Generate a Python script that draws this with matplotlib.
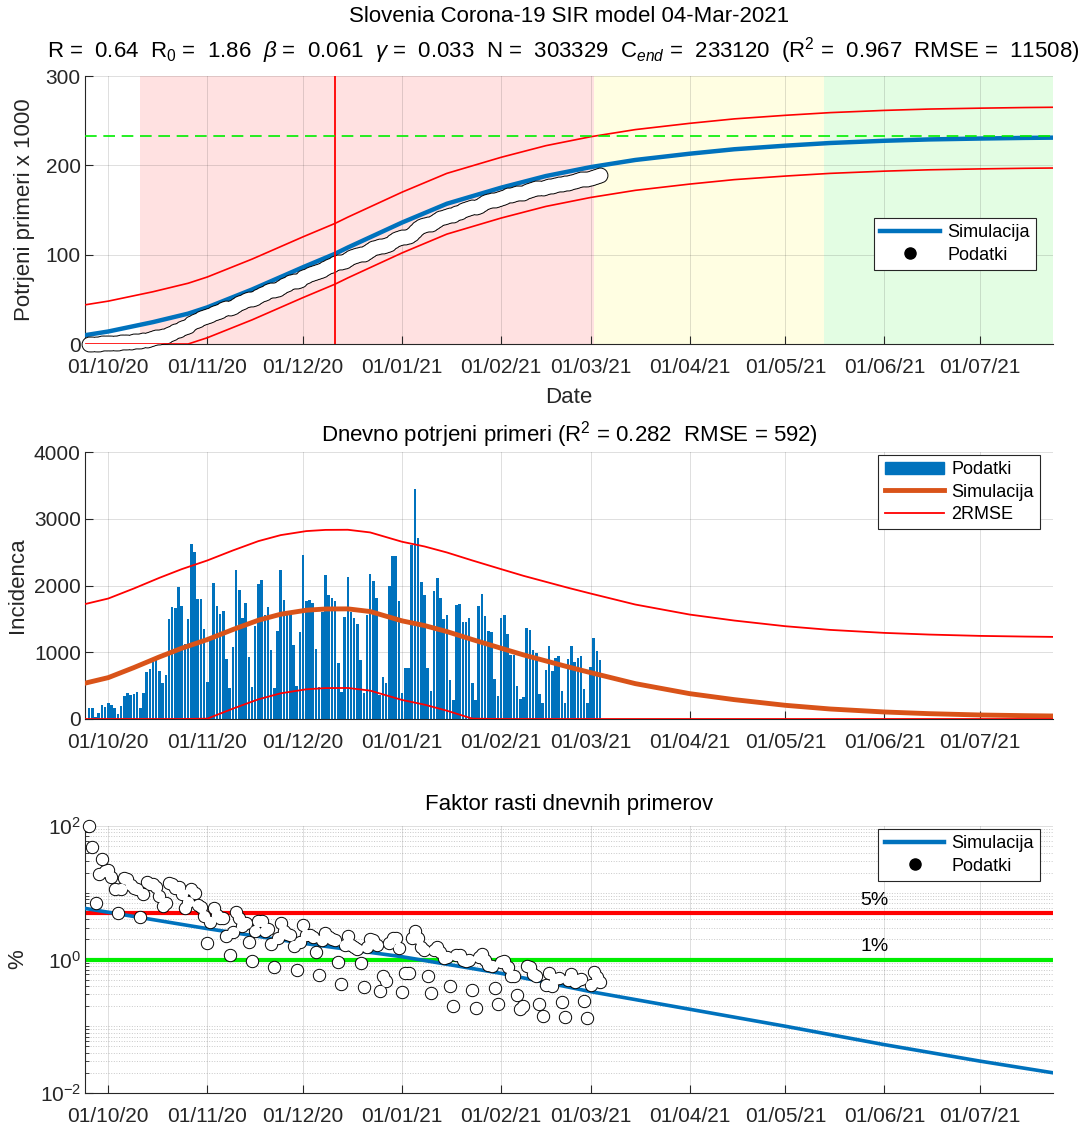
import numpy as np
import pandas as pd
import matplotlib
matplotlib.use('Agg')
import matplotlib.pyplot as plt
import matplotlib.dates as mdates
from matplotlib.lines import Line2D
from matplotlib.patches import Patch

plt.rcParams['font.family'] = ['Liberation Sans', 'DejaVu Sans']
plt.rcParams['mathtext.fontset'] = 'custom'
plt.rcParams['mathtext.rm'] = 'Liberation Sans'
plt.rcParams['mathtext.it'] = 'Liberation Sans:italic'

# ---- data ----
day0 = '2020-09-25'
daily_cases = [
    170, 160, 25, 85, 205, 175, 235, 215, 160, 75, 190, 345, 390, 360, 375, 405, 160, 390,
    705, 750, 860, 895, 720, 535, 655, 1500, 1675, 1660, 1975, 1700, 1125, 1500, 2625, 2500,
    1805, 1805, 1345, 550, 1185, 2035, 1690, 1575, 1615, 900, 465, 1080, 2235, 1935, 1515,
    1745, 925, 485, 1400, 2020, 2080, 1560, 1685, 1035, 465, 1320, 2235, 1790, 1615, 1590,
    1110, 500, 1300, 2450, 1775, 1790, 1745, 1045, 475, 1600, 2150, 1860, 1810, 1765, 845,
    400, 1535, 2120, 1610, 1520, 1425, 885, 395, 1560, 2165, 2065, 1820, 365, 625, 535, 1995,
    2435, 2435, 1775, 395, 765, 765, 2610, 3445, 2710, 2050, 1865, 760, 425, 1920, 2105, 1815,
    1500, 1560, 580, 290, 1705, 1720, 1455, 1455, 1515, 535, 290, 1690, 1875, 1545, 1315,
    1300, 595, 345, 1520, 1555, 1270, 960, 960, 495, 305, 335, 1370, 1340, 1035, 985, 375,
    245, 735, 1100, 720, 910, 950, 420, 245, 895, 1100, 850, 910, 950, 445, 245, 780, 1210,
    1025, 885,
]

# cumulative model (x 1000)
cum_dates = ['2020-09-24', '2020-10-01', '2020-10-15', '2020-10-26', '2020-11-01', '2020-11-15',
             '2020-12-01', '2020-12-11', '2020-12-15', '2021-01-01', '2021-01-15', '2021-02-01',
             '2021-02-15', '2021-03-01', '2021-03-15', '2021-04-01', '2021-04-15', '2021-05-01',
             '2021-05-15', '2021-06-01', '2021-06-15', '2021-07-01', '2021-07-15', '2021-07-24']
cum_sim = [10, 14, 24.5, 34, 41, 61, 86, 101, 108, 136, 157, 175, 188, 198, 206, 213, 218, 222,
           225, 227.5, 229, 230, 230.7, 231]
cum_upper = [44, 48, 58.5, 68, 75, 95, 120, 135, 142, 170, 191, 209, 222, 232, 240, 247, 252, 256,
             259, 261.5, 263, 264, 264.7, 265]
cum_lower = [0, 0, 0, 0, 7, 27, 52, 67, 74, 102, 123, 141, 154, 164, 172, 179, 184, 188,
             191, 193.5, 195, 196, 196.7, 197]
c_end = 233.12
peak_date = '2020-12-11'
phase_edges = ['2020-10-11', '2021-03-02', '2021-05-13', '2021-07-24']
phase_colors = ['#ffe1e1', '#fffee2', '#e3fde3']

# daily model
inc_dates = ['2020-09-24', '2020-10-01', '2020-10-09', '2020-10-17', '2020-10-24', '2020-11-01',
             '2020-11-09', '2020-11-17', '2020-11-24', '2020-12-02', '2020-12-08', '2020-12-15',
             '2020-12-22', '2021-01-01', '2021-01-08', '2021-01-15', '2021-01-23', '2021-02-01',
             '2021-02-08', '2021-02-15', '2021-02-22', '2021-03-01', '2021-03-15', '2021-04-01',
             '2021-04-15', '2021-05-01', '2021-05-15', '2021-06-01', '2021-06-15', '2021-07-01',
             '2021-07-15', '2021-07-24']
inc_sim = [540, 620, 770, 930, 1060, 1190, 1340, 1480, 1570, 1630, 1648, 1650, 1610, 1470,
           1400, 1310, 1190, 1060, 960, 870, 780, 695, 530, 380, 290, 205, 150, 105, 80, 60,
           50, 45]
inc_upper = [1725, 1805, 1955, 2115, 2245, 2375, 2525, 2665, 2755, 2815, 2833, 2835, 2795, 2655,
             2585, 2495, 2375, 2245, 2145, 2055, 1965, 1880, 1715, 1565, 1475, 1390, 1335, 1290,
             1265, 1245, 1235, 1230]
inc_lower = [0, 0, 0, 0, 0, 5, 155, 295, 385, 445, 463, 465, 425, 285, 215, 125, 5, 0, 0, 0,
             0, 0, 0, 0, 0, 0, 0, 0, 0, 0, 0, 0]

# growth factor model (%)
gr_dates = ['2020-09-24', '2020-11-01', '2020-12-01', '2021-01-01', '2021-02-01', '2021-03-01',
            '2021-04-01', '2021-05-01', '2021-06-01', '2021-07-01', '2021-07-24']
gr_sim = [5.8, 2.9, 1.75, 1.1, 0.62, 0.33, 0.18, 0.10, 0.053, 0.03, 0.02]

# ---- derived ----
days = pd.date_range(day0, periods=len(daily_cases), freq='D')
daily = np.array(daily_cases, dtype=float)
cum = np.cumsum(daily)
growth = daily / cum * 100

BLUE = '#0072bd'
ORANGE = '#d95319'
TXT = '#262626'
xmin = pd.Timestamp('2020-09-23 17:00')
xmax = pd.Timestamp('2021-07-23 19:00')
month_ticks = pd.date_range('2020-10-01', '2021-07-01', freq='MS')

fig = plt.figure(figsize=(10.88, 11.26), dpi=100)
W, H = 1088, 1126


def make_ax(top, bottom):
    return fig.add_axes([85 / W, 1 - bottom / H, 968 / W, (bottom - top) / H])


def style(ax):
    ax.set_xlim(xmin, xmax)
    ax.set_xticks(month_ticks)
    ax.xaxis.set_major_formatter(mdates.DateFormatter('%d/%m/%y'))
    ax.tick_params(direction='in', length=6, labelsize=15, colors=TXT)
    ax.tick_params(axis='x', pad=10)
    ax.tick_params(axis='y', pad=3)
    ax.spines['top'].set_visible(False)
    ax.spines['right'].set_visible(False)
    for s in ('left', 'bottom'):
        ax.spines[s].set_color(TXT)
    ax.set_axisbelow(True)
    ax.grid(True, color=TXT, alpha=0.15, lw=0.7)


def outlined_dots(ax, x, y, size):
    # outline layer first, then white faces: only the outer contour stays visible
    ax.plot(x, y, 'o', ms=size + 1.4, mfc='black', mec='none', zorder=4, clip_on=False)
    ax.plot(x, y, 'o', ms=size, mfc='white', mec='none', zorder=4.1, clip_on=False)


def add_legend(ax, handles, labels, anchor):
    leg = ax.legend(handles=handles, labels=labels, loc='upper right', bbox_to_anchor=anchor,
                    borderaxespad=0, fontsize=13, fancybox=False, edgecolor=TXT,
                    framealpha=1, handlelength=3.3, handletextpad=0.4, labelspacing=0.3,
                    borderpad=0.35)
    leg.get_frame().set_linewidth(0.8)
    leg.set_zorder(10)


sim_handle = Line2D([], [], color=BLUE, lw=3.2)
dot_handle = Line2D([], [], ls='none', marker='o', ms=8, mfc='black', mec='black')

# ---- top: cumulative ----
ax1 = make_ax(76, 344)
style(ax1)
for i, col in enumerate(phase_colors):
    ax1.axvspan(pd.Timestamp(phase_edges[i]), pd.Timestamp(phase_edges[i + 1]),
                color=col, lw=0, zorder=0)
ax1.plot(pd.to_datetime(cum_dates), cum_sim, color=BLUE, lw=3.2, zorder=3)
outlined_dots(ax1, days, cum / 1000, 10)
ax1.plot(pd.to_datetime(cum_dates), cum_upper, color='red', lw=1.2, zorder=5)
ax1.plot(pd.to_datetime(cum_dates), cum_lower, color='red', lw=1.2, zorder=5)
ax1.axvline(pd.Timestamp(peak_date), color='red', lw=1.3, zorder=5)
ax1.axhline(c_end, color='#00ee00', lw=1.2, ls=(0, (7, 4)), zorder=5)
ax1.set_ylim(0, 300)
ax1.set_yticks([0, 100, 200, 300])
ax1.set_ylabel('Potrjeni primeri x 1000', fontsize=16, color=TXT)
ax1.yaxis.set_label_coords(-0.052, 0.5)
ax1.set_xlabel('Date', fontsize=16, color=TXT)
ax1.xaxis.set_label_coords(0.5, -0.16)
add_legend(ax1, [sim_handle, dot_handle], ['Simulacija', 'Podatki'], (0.9825, 0.47))

fig.text(0.523, 1 - 16 / H, 'Slovenia Corona-19 SIR model 04-Mar-2021',
         ha='center', va='center', fontsize=16, color='black')
fig.text(0.518, 1 - 51 / H,
         r'R =  0.64  R$_0$ =  1.86  $\beta$ =  0.061  $\gamma$ =  0.033  N =  303329  '
         r'C$_{end}$ =  233120  (R$^2$ =  0.967  RMSE =  11508)',
         ha='center', va='center', fontsize=16, color='black')

# ---- middle: daily incidence ----
ax2 = make_ax(452, 719)
style(ax2)
ax2.bar(days, daily, width=0.8, color=BLUE, edgecolor='none', zorder=2)
ax2.plot(pd.to_datetime(inc_dates), inc_sim, color=ORANGE, lw=3.5, zorder=3)
ax2.plot(pd.to_datetime(inc_dates), inc_upper, color='red', lw=1.3, zorder=4)
ax2.plot(pd.to_datetime(inc_dates), inc_lower, color='red', lw=1.3, zorder=4)
ax2.set_ylim(0, 4000)
ax2.set_yticks([0, 1000, 2000, 3000, 4000])
ax2.set_ylabel('Incidenca', fontsize=16, color=TXT)
ax2.yaxis.set_label_coords(-0.059, 0.5)
ax2.text(0.5, 1.067, r'Dnevno potrjeni primeri (R$^2$ = 0.282  RMSE = 592)',
         transform=ax2.transAxes, ha='center', va='center', fontsize=16)
add_legend(ax2, [Patch(color=BLUE), Line2D([], [], color=ORANGE, lw=3.5),
                 Line2D([], [], color='red', lw=1.3)],
           ['Podatki', 'Simulacija', '2RMSE'], (0.987, 0.989))

# ---- bottom: growth factor ----
ax3 = make_ax(826, 1093)
style(ax3)
ax3.set_yscale('log')
ax3.set_ylim(1e-2, 1e2)
ax3.set_yticks([1e-2, 1, 1e2])
ax3.set_yticklabels([r'$10^{-2}$', r'$10^{0}$', r'$10^{2}$'])
ax3.yaxis.set_minor_locator(matplotlib.ticker.LogLocator(base=10, subs=np.arange(1, 10), numticks=20))
ax3.yaxis.set_minor_formatter(matplotlib.ticker.NullFormatter())
ax3.tick_params(which='minor', direction='in', length=3, colors=TXT)
ax3.grid(True, which='minor', axis='y', color=TXT, alpha=0.25, lw=0.7, ls=':')
ax3.axhline(5, color='red', lw=3, zorder=2)
ax3.axhline(1, color='#00ee00', lw=3, zorder=2)
ax3.plot(pd.to_datetime(gr_dates), gr_sim, color=BLUE, lw=2.6, zorder=3)
outlined_dots(ax3, days, growth, 8.2)
ax3.text(pd.Timestamp('2021-05-29'), 7.6, '5%', ha='center', va='center', fontsize=14)
ax3.text(pd.Timestamp('2021-05-29'), 1.55, '1%', ha='center', va='center', fontsize=14)
ax3.set_ylabel('%', fontsize=16, color=TXT)
ax3.yaxis.set_label_coords(-0.059, 0.5)
ax3.text(0.5, 1.079, 'Faktor rasti dnevnih primerov',
         transform=ax3.transAxes, ha='center', va='center', fontsize=16)
add_legend(ax3, [sim_handle, dot_handle], ['Simulacija', 'Podatki'], (0.987, 0.989))

fig.savefig('out.png', dpi=100)
